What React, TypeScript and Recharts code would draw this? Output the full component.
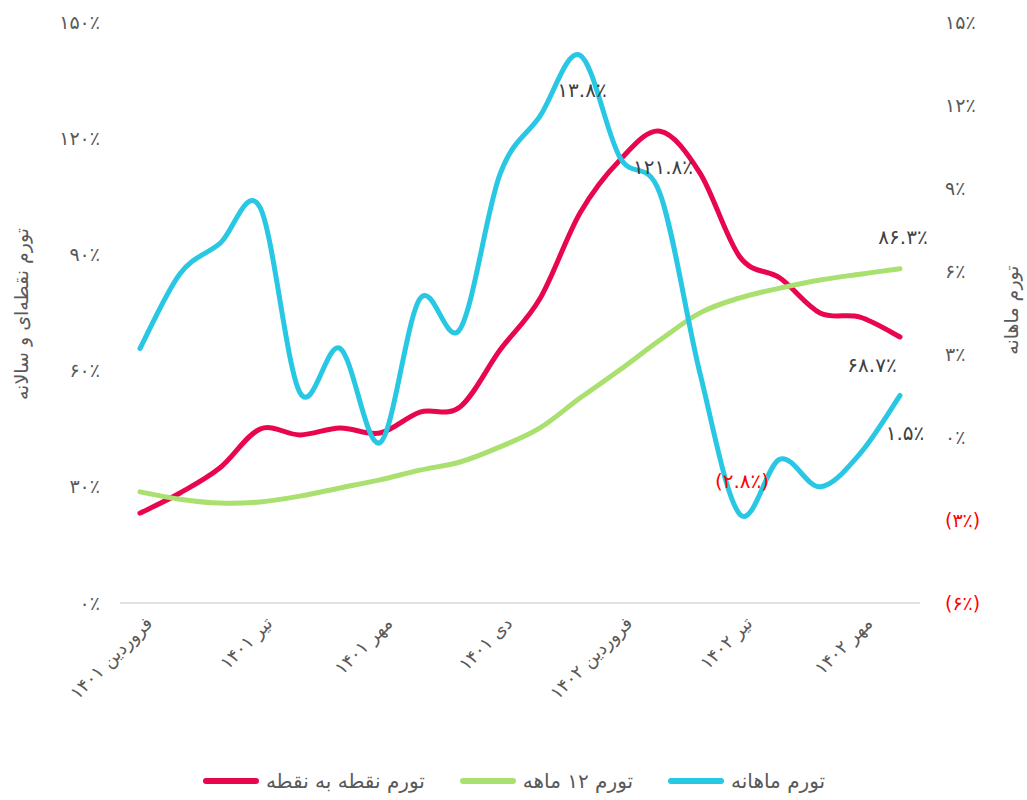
import React from 'react';
import { LineChart, Line, XAxis, YAxis, Legend } from 'recharts';

const periods = [
  'فروردین ۱۴۰۱', 'اردیبهشت ۱۴۰۱', 'خرداد ۱۴۰۱', 'تیر ۱۴۰۱', 'مرداد ۱۴۰۱', 'شهریور ۱۴۰۱',
  'مهر ۱۴۰۱', 'آبان ۱۴۰۱', 'آذر ۱۴۰۱', 'دی ۱۴۰۱', 'بهمن ۱۴۰۱', 'اسفند ۱۴۰۱',
  'فروردین ۱۴۰۲', 'اردیبهشت ۱۴۰۲', 'خرداد ۱۴۰۲', 'تیر ۱۴۰۲', 'مرداد ۱۴۰۲', 'شهریور ۱۴۰۲',
  'مهر ۱۴۰۲', 'آبان ۱۴۰۲',
];

// تورم نقطه به نقطه (left axis, %)
const pointToPoint = [23.2, 28.4, 34.9, 44.9, 43.4, 45.2, 43.9, 49.3, 50.6, 65.3, 78.6, 100.7, 114.4, 121.8, 111.0, 89.3, 83.9, 74.9, 73.8, 68.7];
// تورم ۱۲ ماهه (left axis, %)
const annual = [28.7, 26.8, 25.8, 26.1, 27.6, 29.7, 31.8, 34.3, 36.4, 40.3, 45.2, 52.9, 60.2, 67.9, 74.9, 78.8, 81.3, 83.4, 84.9, 86.3];
// تورم ماهانه (right axis, %)
const monthly = [3.2, 5.9, 7.0, 8.3, 1.6, 3.2, -0.2, 5.0, 3.9, 9.5, 11.6, 13.8, 10.1, 8.8, 2.3, -2.8, -0.8, -1.8, -0.6, 1.5];

const leftTicks = [0, 30, 60, 90, 120, 150];
const rightTicks = [-6, -3, 0, 3, 6, 9, 12, 15];

const data = periods.map((p, i) => ({
  period: p,
  p2p: pointToPoint[i],
  annual: annual[i],
  monthly: monthly[i],
}));

const legendOrder = ['p2p', 'annual', 'monthly'];

const FONT = '"DejaVu Sans", sans-serif';
const GREY = '#595959';
const RED = '#e8064f';
const GREEN = '#a9e06f';
const BLUE = '#28c7e3';

const fa = (s: string) => s.replace(/[0-9]/g, (d) => '۰۱۲۳۴۵۶۷۸۹'[+d]);
const pct = (v: number) => {
  const t = fa(String(Math.abs(v))) + '٪';
  return v < 0 ? `(${t})` : t;
};

// excel-like smooth line (catmull-rom)
function smooth(context: any) {
  let pts: number[][] = [];
  return {
    areaStart() {},
    areaEnd() {},
    lineStart() { pts = []; },
    point(x: number, y: number) { pts.push([+x, +y]); },
    lineEnd() {
      const n = pts.length;
      if (!n) return;
      context.moveTo(pts[0][0], pts[0][1]);
      for (let i = 0; i < n - 1; i++) {
        const p0 = pts[Math.max(0, i - 1)];
        const p1 = pts[i];
        const p2 = pts[i + 1];
        const p3 = pts[Math.min(n - 1, i + 2)];
        context.bezierCurveTo(
          p1[0] + (p2[0] - p0[0]) / 6, p1[1] + (p2[1] - p0[1]) / 6,
          p2[0] - (p3[0] - p1[0]) / 6, p2[1] - (p3[1] - p1[1]) / 6,
          p2[0], p2[1],
        );
      }
    },
  };
}

const XTick = (props: any) => {
  const { x, payload } = props;
  return (
    <g transform={`translate(${x + 9},${620})`}>
      <text transform="rotate(-45)" textAnchor="end" dy="0.35em" fontFamily={FONT} fontSize={18} fill={GREY}>
        {payload.value}
      </text>
    </g>
  );
};

const LeftTick = (props: any) => (
  <text x={100} y={props.y} dy="0.35em" textAnchor="end" fontFamily={FONT} fontSize={19} fill={GREY}>
    {pct(props.payload.value)}
  </text>
);

const RightTick = (props: any) => {
  const v = props.payload.value;
  return (
    <text x={945} y={props.y} dy="0.35em" textAnchor="start" fontFamily={FONT} fontSize={19} fill={v < 0 ? '#ff0000' : GREY}>
      {pct(v)}
    </text>
  );
};

const makeLabel = (shown: Record<number, [number, number]>) => (props: any) => {
  const { x, y, value, index } = props;
  const off = shown[index];
  if (!off) return <g key={`l-${index}`} />;
  return (
    <text key={`l-${index}`} x={x + off[0]} y={y + off[1]} dy="0.35em" textAnchor="middle"
      fontFamily={FONT} fontSize={20} fill={value < 0 ? '#ff0000' : '#404040'}>
      {pct(value)}
    </text>
  );
};

const LegendContent = (props: any) => {
  const items = [...(props.payload || [])].sort(
    (a: any, b: any) => legendOrder.indexOf(a.dataKey) - legendOrder.indexOf(b.dataKey),
  );
  return (
    <div style={{ height: 47, display: 'flex', justifyContent: 'center', alignItems: 'center', gap: 34, paddingTop: 8, boxSizing: 'border-box' }}>
      {items.map((item: any) => (
        <div key={item.value} style={{ display: 'flex', alignItems: 'center', gap: 6 }}>
          <svg width={58} height={8}>
            <line x1={4} y1={4} x2={54} y2={4} stroke={item.color} strokeWidth={6} strokeLinecap="round" />
          </svg>
          <span style={{ fontFamily: FONT, fontSize: 20, color: GREY }}>{item.value}</span>
        </div>
      ))}
    </div>
  );
};

export default function App() {
  return (
    <div style={{ position: 'absolute', left: 0, top: 0, width: 1027, height: 800, background: '#fff' }}>
      <LineChart width={1027} height={800} data={data} margin={{ top: 22, right: 0, bottom: 0, left: 0 }}>
        <XAxis dataKey="period" interval={2} tick={<XTick />} tickLine={false} height={150}
          axisLine={{ stroke: '#d9d9d9', strokeWidth: 1.5 }} padding={{ left: 20, right: 20 }} />
        <YAxis yAxisId="left" orientation="left" width={120} domain={[0, 150]} ticks={leftTicks}
          axisLine={false} tickLine={false} tick={<LeftTick />}
          label={{
            content: () => (
              <text transform="translate(21,314) rotate(-90)" textAnchor="middle" dy="0.35em" fontFamily={FONT} fontSize={19} fill={GREY}>
                تورم نقطه‌ای و سالانه
              </text>
            ),
          }} />
        <YAxis yAxisId="right" orientation="right" width={107} domain={[-6, 15]} ticks={rightTicks}
          axisLine={false} tickLine={false} tick={<RightTick />}
          label={{
            content: () => (
              <text transform="translate(1011,310) rotate(-90)" textAnchor="middle" dy="0.35em" fontFamily={FONT} fontSize={19} fill={GREY}>
                تورم ماهانه
              </text>
            ),
          }} />
        <Legend verticalAlign="bottom" content={<LegendContent />} />
        <Line yAxisId="left" dataKey="p2p" name="تورم نقطه به نقطه" type={smooth as any} stroke={RED} strokeWidth={5}
          dot={false} activeDot={false} isAnimationActive={false} strokeLinecap="round"
          label={makeLabel({ 13: [3, 36], 19: [-28, 28] })} />
        <Line yAxisId="left" dataKey="annual" name="تورم ۱۲ ماهه" type={smooth as any} stroke={GREEN} strokeWidth={5}
          dot={false} activeDot={false} isAnimationActive={false} strokeLinecap="round"
          label={makeLabel({ 19: [3, -32] })} />
        <Line yAxisId="right" dataKey="monthly" name="تورم ماهانه" type={smooth as any} stroke={BLUE} strokeWidth={5}
          dot={false} activeDot={false} isAnimationActive={false} strokeLinecap="round"
          label={makeLabel({ 11: [2, 35], 15: [2, -33], 19: [5, 37] })} />
      </LineChart>
    </div>
  );
}
